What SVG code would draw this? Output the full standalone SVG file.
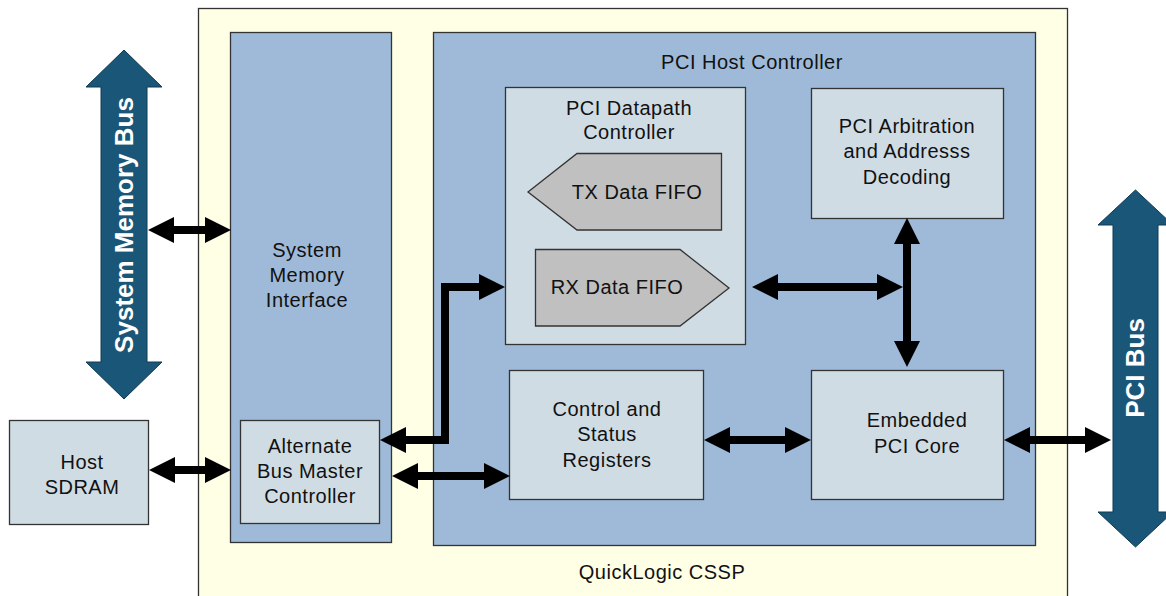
<svg xmlns="http://www.w3.org/2000/svg" width="1166" height="596" viewBox="0 0 1166 596">
<style>
.box{stroke:#333;stroke-width:1.3}
.panel{fill:#9fbad8}
.light{fill:#d0dce4}
.fifo{fill:#c0c0c0;stroke:#333;stroke-width:1.3}
.bus{fill:#1a5677;stroke:#0e3a52;stroke-width:1}
text{font-family:"Liberation Sans",Arial,sans-serif;font-size:20px;letter-spacing:0.5px;fill:#111;text-anchor:middle}
.bt{font-weight:bold;font-size:26px;letter-spacing:0;fill:#fff}
.conn{fill:none;stroke:#000;stroke-width:8;stroke-linejoin:miter;marker-start:url(#ah);marker-end:url(#ah)}
</style>
<defs>
<marker id="ah" viewBox="0 0 26 26" markerWidth="26" markerHeight="26" markerUnits="userSpaceOnUse" refX="1" refY="13" orient="auto-start-reverse">
<path d="M0,0 L26,13 L0,26 z" fill="#000"/>
</marker>
</defs>
<rect width="1166" height="596" fill="#fff"/>
<g id="cssp">
<rect class="box" x="198.5" y="8.5" width="869" height="600" fill="#ffffe6"/>
<text x="662" y="579">QuickLogic CSSP</text>
</g>
<g id="smi">
<rect class="box panel" x="230.5" y="32.5" width="161" height="510"/>
<text x="307" y="257">System</text>
<text x="307" y="282">Memory</text>
<text x="307" y="307">Interface</text>
</g>
<g id="phc">
<rect class="box panel" x="433.5" y="32.5" width="602" height="513"/>
<text x="752" y="69">PCI Host Controller</text>
</g>
<g id="abmc">
<rect class="box light" x="240.5" y="420.5" width="139" height="103"/>
<text x="310" y="453">Alternate</text>
<text x="310" y="478">Bus Master</text>
<text x="310" y="503">Controller</text>
</g>
<g id="host-sdram">
<rect class="box light" x="9.5" y="420.5" width="139" height="104"/>
<text x="82" y="469">Host</text>
<text x="82" y="494">SDRAM</text>
</g>
<g id="datapath">
<rect class="box light" x="505.5" y="87.5" width="240" height="257"/>
<text x="629" y="115">PCI Datapath</text>
<text x="629" y="139">Controller</text>
</g>
<g id="tx-fifo">
<polygon class="fifo" points="528,192 577,153.5 721.5,153.5 721.5,230 577,230"/>
<text x="637" y="199">TX Data FIFO</text>
</g>
<g id="rx-fifo">
<polygon class="fifo" points="535.5,249.5 680,249.5 729,288 680,326 535.5,326"/>
<text x="617" y="294">RX Data FIFO</text>
</g>
<g id="arb">
<rect class="box light" x="811.5" y="88.5" width="192" height="130"/>
<text x="907" y="133">PCI Arbitration</text>
<text x="907" y="158">and Addresss</text>
<text x="907" y="184">Decoding</text>
</g>
<g id="csr">
<rect class="box light" x="509.5" y="370.5" width="194" height="129"/>
<text x="607" y="416">Control and</text>
<text x="607" y="441">Status</text>
<text x="607" y="467">Registers</text>
</g>
<g id="epc">
<rect class="box light" x="811.5" y="370.5" width="192" height="129"/>
<text x="917" y="427">Embedded</text>
<text x="917" y="453">PCI Core</text>
</g>
<g id="sys-mem-bus">
<polygon class="bus" points="124,50 162,87 147,87 147,362 162,362 124,399 86,362 101,362 101,87 86,87"/>
<text class="bt" transform="translate(133,225) rotate(-90)">System Memory Bus</text>
</g>
<g id="pci-bus">
<polygon class="bus" points="1135.5,190 1173,225 1158,225 1158,512 1173,512 1135.5,547 1098,512 1113,512 1113,225 1098,225"/>
<text class="bt" transform="translate(1144,368) rotate(-90)">PCI Bus</text>
</g>
<g id="connectors">
<path class="conn" d="M173,230 H206"/>
<path class="conn" d="M174,470 H206"/>
<path class="conn" d="M405,440 H445 V287 H480"/>
<path class="conn" d="M417,476 H485"/>
<path class="conn" d="M777,287 H878"/>
<path class="conn" d="M907,243 V342"/>
<path class="conn" d="M729,440 H786"/>
<path class="conn" d="M1029,440 H1086"/>
</g>
</svg>
